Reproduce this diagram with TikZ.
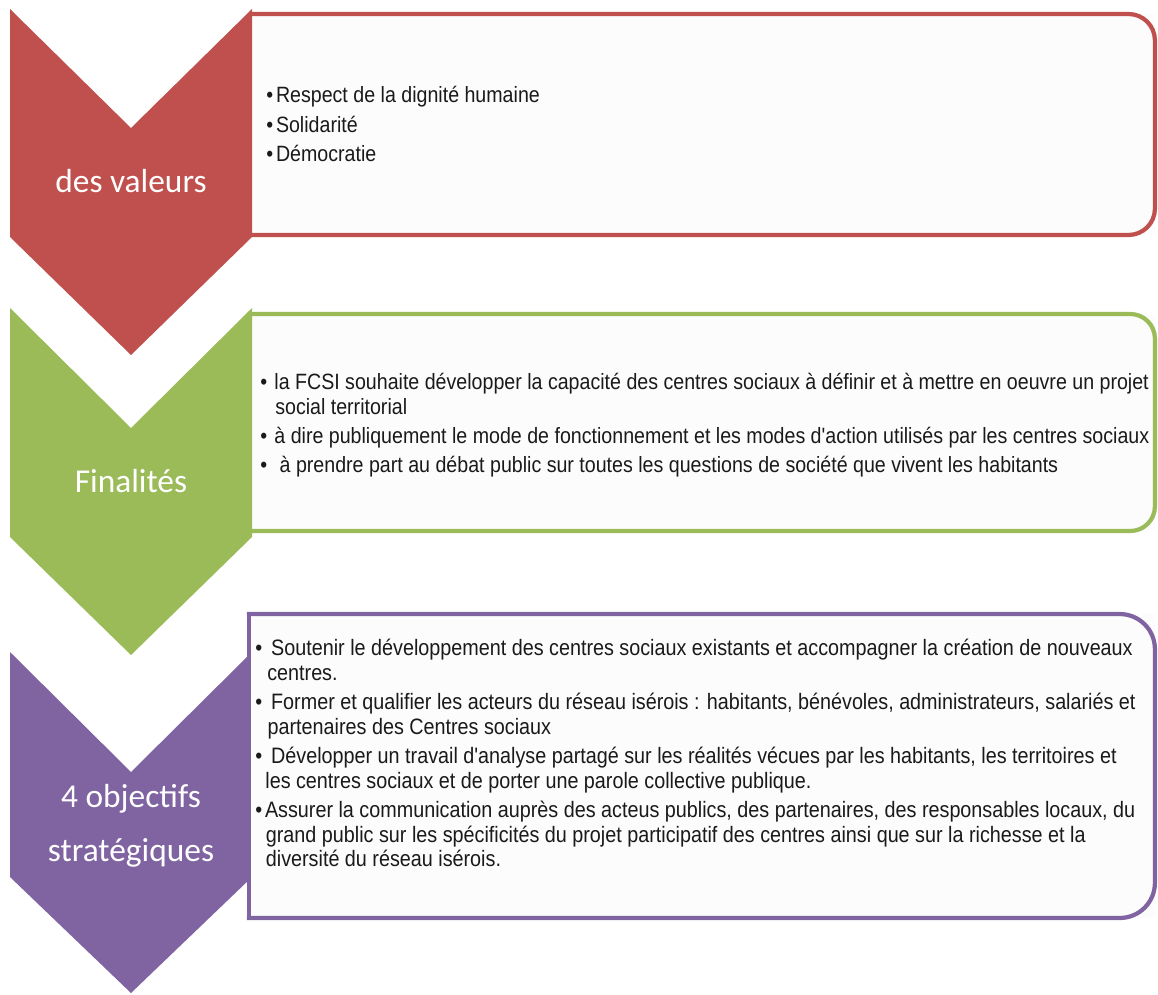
\documentclass[tikz,border=0pt]{standalone}
\usepackage{fontspec}
\setmainfont{Liberation Sans}
\newfontfamily\bodyfont[FakeStretch=0.886]{Liberation Sans}
\newfontfamily\headfont{Carlito}
\usetikzlibrary{positioning}

\definecolor{valred}{HTML}{C0504D}
\definecolor{fingreen}{HTML}{9BBB59}
\definecolor{objpurple}{HTML}{8064A2}
\definecolor{panelfill}{HTML}{FCFCFC}
\definecolor{bodytext}{HTML}{1A1A1A}

\newcommand{\itembul}[1][5.5pt]{\makebox[#1][l]{\textbullet}}
\newcommand{\itemcont}[1][5.5pt]{\hspace*{#1}}

\begin{document}
\begin{tikzpicture}[x=0.02cm, y=-0.02cm]
  \tikzstyle{panel} = [rectangle, fill=panelfill, inner sep=0pt, outer sep=0pt]
  \tikzstyle{panelline} = [line width=2.4pt, line cap=rect]
  \tikzstyle{head} = [text=white, align=center, font=\headfont\fontsize{19}{30.6}\selectfont]
  \tikzstyle{bodytxt} = [anchor=north west, inner sep=0pt, align=left, text=bodytext, font=\bodyfont\fontsize{12.6}{14.2}\selectfont]

  \useasboundingbox (0,0) rectangle (1158,994);

  % des valeurs
  \node[panel, minimum width=18.06cm, minimum height=4.42cm] (valbox) at (703.5,124.5) {};
  \draw[panelline, valred, rounded corners=15pt] (valbox.north west) -- (valbox.north east) -- (valbox.south east) -- (valbox.south west);
  \fill[valred] (10,9) -- (131,128) -- (252,9) -- (252,237) -- (131,355) -- (10,237) -- cycle;
  \node[head, anchor=base] (vals) at (131,192) {des valeurs};
  \node[bodytxt] (valtext) at (266,86) {\itembul Respect de la dignité humaine\\[2.6pt]
    \itembul Solidarité\\[2.6pt]
    \itembul Démocratie};

  % Finalités
  \node[panel, minimum width=18.06cm, minimum height=4.34cm] (finbox) at (703.5,422.5) {};
  \draw[panelline, fingreen, rounded corners=14pt] (finbox.north west) -- (finbox.north east) -- (finbox.south east) -- (finbox.south west);
  \fill[fingreen] (10,308) -- (131,428) -- (252,308) -- (252,537) -- (131,655) -- (10,537) -- cycle;
  \node[head, anchor=base] (fins) at (131,492) {Finalités};
  \node[bodytxt] (fintext) at (260,373) {\itembul[8pt]la FCSI souhaite développer la capacité des centres sociaux à définir et à mettre en oeuvre un projet\\
    \itemcont[8.5pt]social territorial\\[2.2pt]
    \itembul[8pt]à dire publiquement le mode de fonctionnement et les modes d'action utilisés par les centres sociaux\\[2.2pt]
    \itembul[11pt]à prendre part au débat public sur toutes les questions de société que vivent les habitants};

  % 4 objectifs stratégiques
  \fill[objpurple] (10,652) -- (131,772) -- (252,652) -- (252,877) -- (131,993) -- (10,877) -- cycle;
  \node[head] (objs) at (131,826) {4 objectifs\\stratégiques};
  \node[panel, minimum width=18.12cm, minimum height=6.08cm] (objbox) at (702,766) {};
  \draw[panelline, objpurple, rounded corners=20pt] (objbox.north west) -- (objbox.north east) -- (objbox.south east) -- (objbox.south west);
  \draw[panelline, objpurple] (objbox.south west) -- (objbox.north west);
  \node[bodytxt, font=\bodyfont\fontsize{12.7}{14.2}\selectfont] (objtext) at (255,639) {\itembul[9pt]Soutenir le développement des centres sociaux existants et accompagner la création de nouveaux\\
    \itemcont[6.8pt]centres.\\[2.2pt]
    \itembul[9pt]Former et qualifier les acteurs du réseau isérois : habitants, bénévoles, administrateurs, salariés et\\
    \itemcont[7pt]partenaires des Centres sociaux\\[2.2pt]
    \itembul[9pt]Développer un travail d'analyse partagé sur les réalités vécues par les habitants, les territoires et\\
    \itemcont[5.7pt]les centres sociaux et de porter une parole collective publique.\\[2.2pt]
    \itembul[5.5pt]Assurer la communication auprès des acteus publics, des partenaires, des responsables locaux, du\\
    \itemcont[6pt]grand public sur les spécificités du projet participatif des centres ainsi que sur la richesse et la\\
    \itemcont[6pt]diversité du réseau isérois.};
\end{tikzpicture}
\end{document}
